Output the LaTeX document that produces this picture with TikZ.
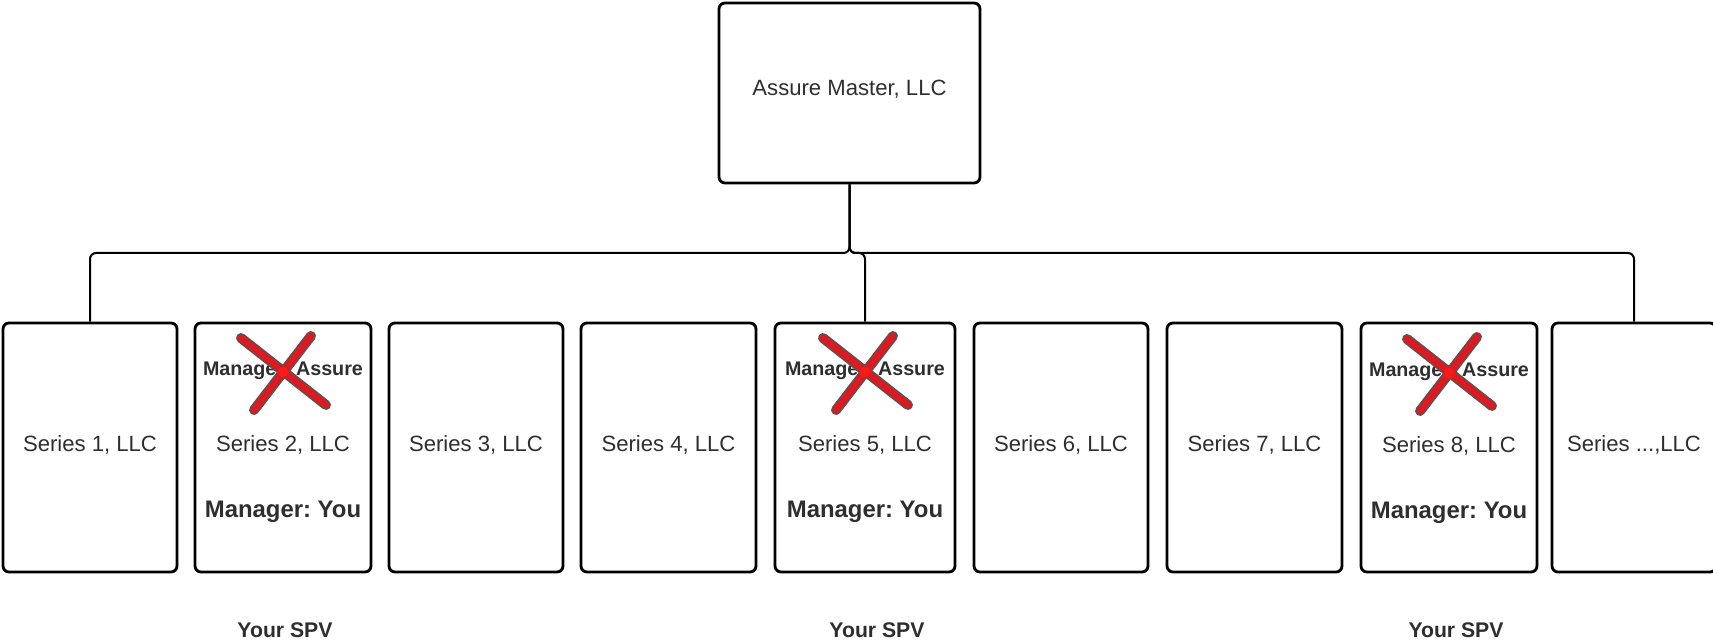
\documentclass[tikz,border=0pt]{standalone}
\usepackage{fontspec}
\setmainfont{Liberation Sans}
\usetikzlibrary{calc}
\definecolor{txt}{HTML}{2E2E2E}
\definecolor{xred}{RGB}{220,26,34}
\definecolor{xgray}{RGB}{95,80,80}
\frenchspacing
\begin{document}
\begin{tikzpicture}[x=0.5pt,y=-0.5pt,
  box/.style={draw=black, line width=1.4pt, rounded corners=3pt, minimum height=124.5pt, inner sep=0pt},
  topbox/.style={draw=black, line width=1.4pt, rounded corners=3pt, minimum width=130.5pt, minimum height=90pt, inner sep=0pt},
  conn/.style={draw=black, line width=1pt, rounded corners=3pt},
  series/.style={text=txt, inner sep=0pt, font=\fontsize{11.05}{13}\selectfont},
  mgr/.style={text=txt, inner sep=0pt, font=\fontsize{11.95}{14}\selectfont\bfseries},
  old/.style={text=txt, inner sep=0pt, font=\fontsize{9.85}{12}\selectfont\bfseries},
  spv/.style={text=txt, inner sep=0pt, font=\fontsize{10.6}{13}\selectfont\bfseries},
  xout/.style={draw=xgray, line width=5pt, line cap=round},
  xin/.style={draw=xred, line width=3.4pt, line cap=round}]
\path[use as bounding box] (0,0) rectangle (1713,641);
\clip (0,0) rectangle (1713,641);

% top box
\node[topbox] (top) at (849.5,93) {};
\node[series] (toptxt) at (849.5,89) {Assure Master, LLC};

% series boxes
\node[box, minimum width=87pt] (s1) at (90,447.5) {};
\node[box, minimum width=88pt] (s2) at (283,447.5) {};
\node[box, minimum width=87pt] (s3) at (476,447.5) {};
\node[box, minimum width=87.5pt] (s4) at (668.5,447.5) {};
\node[box, minimum width=90pt] (s5) at (865,447.5) {};
\node[box, minimum width=87pt] (s6) at (1061,447.5) {};
\node[box, minimum width=87.5pt] (s7) at (1254.5,447.5) {};
\node[box, minimum width=88pt] (s8) at (1449,447.5) {};
\node[box, minimum width=82pt] (s9) at (1634,447.5) {};

% connectors
\coordinate (bus) at (849.5,253);
\draw[conn] (top.south) -- (bus) -| (s1.north);
\draw[conn] (top.south) -- (bus) -| (s9.north);
\draw[conn] (top.south) -- (bus) -| (s5.north);

% series labels
\node[series] (t1) at (90,445) {Series 1, LLC};
\node[series] (t2) at (283,445) {Series 2, LLC};
\node[series] (t3) at (476,445) {Series 3, LLC};
\node[series] (t4) at (668.5,445) {Series 4, LLC};
\node[series] (t5) at (865,445) {Series 5, LLC};
\node[series] (t6) at (1061,445) {Series 6, LLC};
\node[series] (t7) at (1254.5,445) {Series 7, LLC};
\node[series] (t8) at (1449,446) {Series 8, LLC};
\node[series] (t9) at (1634,445) {Series ...,LLC};

% old manager text, crossed out
\node[old] (o2) at (283,371) {Manager: Assure};
\node[old] (o5) at (865,371) {Manager: Assure};
\node[old] (o8) at (1449,372) {Manager: Assure};

\foreach \c in {o2,o5,o8}{
  \draw[xout] ($(\c)+(-42,-33)$) -- ($(\c)+(43,34)$);
  \draw[xout] ($(\c)+(28,-35)$) -- ($(\c)+(-29,39)$);
  \draw[xin] ($(\c)+(-42,-33)$) -- ($(\c)+(43,34)$);
  \draw[xin] ($(\c)+(28,-35)$) -- ($(\c)+(-29,39)$);
  \fill[red!90!white] ($(\c)+(0,1)$) circle (2.6pt);
}

% new manager
\node[mgr] (m2) at (283,512) {Manager: You};
\node[mgr] (m5) at (865,512) {Manager: You};
\node[mgr] (m8) at (1449,513) {Manager: You};

% bottom labels
\node[spv] (y2) at (285,630) {Your SPV};
\node[spv] (y5) at (877,630) {Your SPV};
\node[spv] (y8) at (1456,630) {Your SPV};
\end{tikzpicture}
\end{document}
